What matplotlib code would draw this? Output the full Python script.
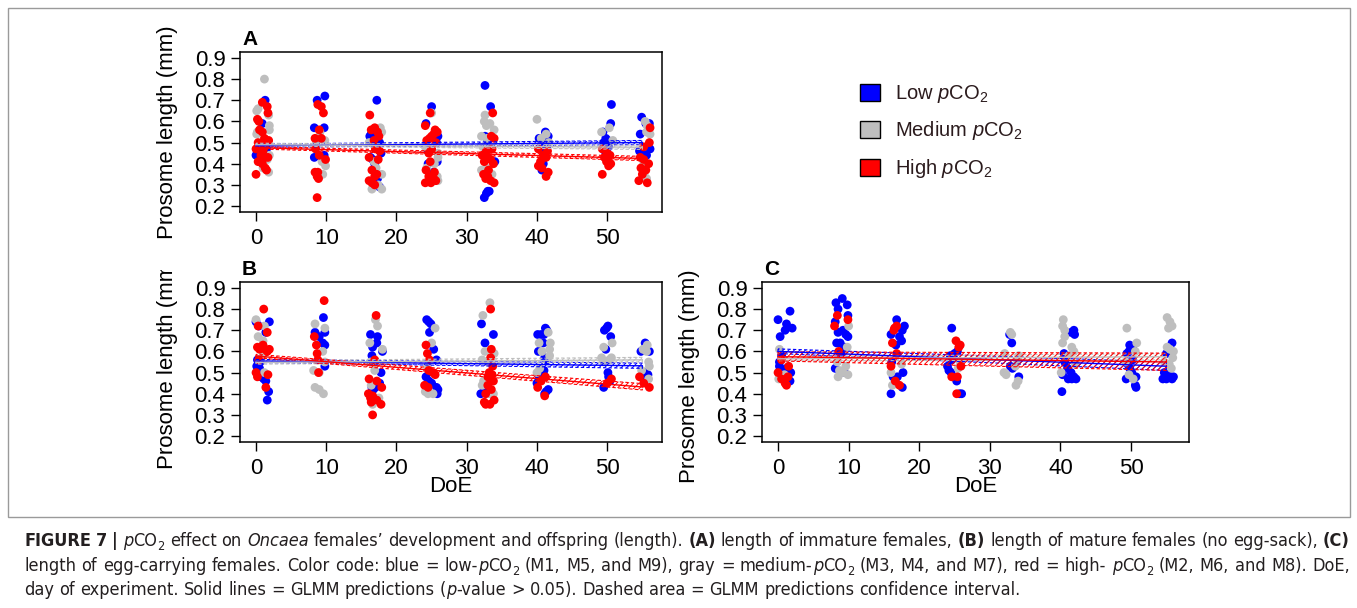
import os
import matplotlib
matplotlib.use('Agg')
import matplotlib.pyplot as plt
from matplotlib import font_manager
from matplotlib.patches import Patch, Rectangle
from matplotlib.transforms import Bbox, TransformedBbox

# ---------------- data ----------------
# panel A : immature females
a_low_x = [1.3, 0.9, 1.5, 0.6, 0.0,
           9.8, 8.7, 8.3, 9.7, 9.7, 8.3,
           17.2, 16.4, 16.2, 16.6, 17.6, 17.8, 16.3, 16.6, 16.9, 17.3, 17.6,
           25.0, 24.2, 25.9, 25.7, 24.4, 25.8, 24.5, 25.3,
           32.6, 33.4, 32.6, 33.0, 34.0, 33.2, 33.0, 32.5, 32.8,
           41.2, 41.6, 40.3, 40.8, 41.1, 41.4, 40.5, 40.9, 40.7,
           50.6, 50.5, 49.4, 49.8, 50.1, 49.5, 50.2, 49.7,
           54.9, 55.5, 56.0, 54.7, 56.1, 54.6, 55.0, 55.6]
a_low_y = [0.70, 0.59, 0.47, 0.48, 0.44,
           0.72, 0.70, 0.57, 0.57, 0.44, 0.43,
           0.70, 0.54, 0.53, 0.52, 0.50, 0.45, 0.43, 0.42, 0.40, 0.33, 0.29,
           0.67, 0.59, 0.53, 0.50, 0.47, 0.41, 0.40, 0.36,
           0.77, 0.67, 0.53, 0.51, 0.41, 0.27, 0.27, 0.24, 0.26,
           0.55, 0.53, 0.52, 0.51, 0.50, 0.48, 0.47, 0.40, 0.37,
           0.68, 0.59, 0.55, 0.52, 0.51, 0.50, 0.48, 0.46,
           0.62, 0.59, 0.59, 0.54, 0.47, 0.46, 0.45, 0.44]
a_med_x = [1.2, 0.3, 0.1, 1.8, 1.9, 1.9, 0.2, 0.1, 1.9, 1.6, 1.8, 1.0,
           9.1, 9.8, 8.6, 9.9, 9.4, 9.5,
           17.7, 17.9, 16.1, 16.8, 17.1, 17.9, 16.5, 17.9, 17.4,
           25.0, 24.1, 25.9, 25.9, 25.4, 25.8, 25.9, 24.3,
           32.6, 32.5, 32.8, 33.9, 33.3, 32.1, 32.9, 32.3, 33.2, 32.8, 32.1, 33.6,
           40.0, 41.3, 40.6, 41.7,
           50.3, 49.2, 50.8,
           55.4, 55.7, 55.6, 56.1, 55.2, 55.3, 55.6]
a_med_y = [0.80, 0.66, 0.65, 0.63, 0.58, 0.56, 0.55, 0.54, 0.44, 0.42, 0.36, 0.38,
           0.55, 0.51, 0.50, 0.39, 0.41, 0.35,
           0.57, 0.55, 0.50, 0.41, 0.38, 0.35, 0.28, 0.28, 0.30,
           0.64, 0.48, 0.45, 0.43, 0.40, 0.34, 0.32, 0.38,
           0.63, 0.60, 0.58, 0.56, 0.59, 0.53, 0.52, 0.48, 0.47, 0.38, 0.37, 0.35,
           0.61, 0.54, 0.52, 0.50,
           0.57, 0.55, 0.51,
           0.60, 0.58, 0.55, 0.54, 0.40, 0.34, 0.33]
a_high_x = [0.9, 1.6, 1.7, 0.2, 0.4, 0.5, 0.9, 1.2, 1.8, 0.3, 0.8, 1.2, 0.0, 1.0, 0.7, 1.3, 1.7, 0.3, 0.9, 1.3, 1.5, 0.0,
            8.8, 9.3, 9.6, 9.0, 8.4, 9.3, 8.5, 9.0, 9.9, 8.4, 8.8, 8.7, 8.9, 8.7,
            16.2, 16.9, 16.4, 17.3, 17.5, 16.8, 17.0, 17.6, 16.1, 17.4, 16.5, 17.2, 16.9, 16.1, 16.5, 16.9,
            24.8, 24.1, 25.5, 25.8, 25.3, 25.0, 24.7, 24.3, 25.6, 25.0, 24.6, 24.8, 24.2, 25.4, 24.6, 25.3, 24.1, 24.9, 25.6,
            33.7, 33.5, 33.9, 33.6, 32.8, 32.2, 33.0, 33.4, 32.5, 33.8, 33.1, 32.4, 33.0, 32.7, 33.4, 33.9,
            40.2, 41.5, 40.9, 41.3, 40.5, 40.2, 40.7, 41.6, 41.3,
            49.3, 50.0, 50.4, 49.6, 49.9, 50.5, 50.2, 49.3,
            56.1, 56.0, 55.2, 54.7, 55.2, 55.9, 54.8, 55.5, 55.0, 54.5, 55.7]
a_high_y = [0.69, 0.67, 0.64, 0.61, 0.60, 0.56, 0.55, 0.52, 0.51, 0.50, 0.49, 0.48, 0.47, 0.46, 0.44, 0.43, 0.43, 0.41, 0.40, 0.38, 0.37, 0.35,
            0.68, 0.67, 0.64, 0.56, 0.52, 0.52, 0.47, 0.44, 0.42, 0.36, 0.36, 0.34, 0.33, 0.24,
            0.63, 0.57, 0.56, 0.55, 0.53, 0.51, 0.47, 0.46, 0.43, 0.42, 0.37, 0.35, 0.34, 0.32, 0.31, 0.30,
            0.64, 0.58, 0.56, 0.55, 0.54, 0.53, 0.52, 0.51, 0.50, 0.47, 0.45, 0.41, 0.37, 0.36, 0.34, 0.33, 0.31, 0.31, 0.32,
            0.64, 0.53, 0.52, 0.47, 0.46, 0.44, 0.43, 0.42, 0.41, 0.40, 0.37, 0.35, 0.34, 0.33, 0.32, 0.31,
            0.47, 0.46, 0.44, 0.43, 0.41, 0.39, 0.38, 0.36, 0.34,
            0.47, 0.45, 0.44, 0.43, 0.41, 0.40, 0.39, 0.35,
            0.57, 0.50, 0.48, 0.43, 0.42, 0.40, 0.38, 0.37, 0.35, 0.32, 0.31]

# panel B : mature females (no egg-sack)
b_low_x = [0.0, 1.9, 0.4, 1.4, 0.2, 0.6, 0.1, 0.5, 0.7, 1.1, 1.4, 1.8, 1.6,
           9.6, 8.4, 9.8, 9.0, 9.5, 9.8, 9.8,
           16.3, 17.3, 17.2, 16.6, 18.0, 16.5, 17.8, 17.6, 17.0, 16.5, 16.7,
           24.3, 24.6, 24.9, 24.7, 25.3, 25.7, 24.2, 24.6, 25.0, 25.7, 25.9, 25.8,
           32.1, 33.8, 32.6, 32.0, 32.5,
           41.2, 41.4, 40.1, 40.6, 41.0, 40.9, 40.2, 41.1, 41.4, 41.0, 40.6, 40.3, 40.0, 41.6, 41.3, 41.1,
           50.1, 49.6, 49.9, 50.5, 49.8, 50.1, 50.2, 50.4, 49.5,
           55.4, 54.8, 56.0, 55.3, 55.8, 55.2]
b_low_y = [0.74, 0.74, 0.72, 0.69, 0.56, 0.55, 0.53, 0.52, 0.48, 0.47, 0.46, 0.41, 0.37,
           0.76, 0.69, 0.69, 0.67, 0.64, 0.63, 0.53,
           0.68, 0.67, 0.64, 0.62, 0.60, 0.58, 0.50, 0.45, 0.43, 0.43, 0.42,
           0.75, 0.74, 0.73, 0.69, 0.61, 0.56, 0.48, 0.46, 0.45, 0.43, 0.42, 0.40,
           0.73, 0.68, 0.64, 0.40, 0.43,
           0.71, 0.70, 0.68, 0.68, 0.68, 0.64, 0.60, 0.57, 0.56, 0.51, 0.50, 0.47, 0.45, 0.42, 0.41, 0.40,
           0.72, 0.70, 0.71, 0.67, 0.61, 0.50, 0.48, 0.46, 0.43,
           0.64, 0.60, 0.60, 0.50, 0.49, 0.47]
b_med_x = [0.0, 1.2, 0.3, 1.0, 1.0, 1.2,
           8.4, 9.8, 9.5, 9.8, 8.2, 9.0, 8.4, 9.0, 9.6,
           17.0, 17.3, 16.2, 18.0, 16.3, 16.9, 16.4, 17.5, 16.6,
           25.5, 25.0, 24.4, 24.1, 24.5, 25.2,
           33.3, 32.3, 32.6, 33.9, 32.2, 33.0, 32.4, 32.2, 33.2, 33.8,
           41.6, 40.3, 41.9, 41.8, 40.7, 41.8, 40.4, 40.0,
           49.5, 50.7, 49.2, 50.6, 49.5, 50.3,
           55.7, 55.1, 55.6, 55.9, 56.0, 54.9, 55.9]
b_med_y = [0.75, 0.72, 0.67, 0.65, 0.58, 0.50,
           0.73, 0.71, 0.60, 0.55, 0.51, 0.50, 0.43, 0.42, 0.40,
           0.75, 0.72, 0.64, 0.61, 0.55, 0.51, 0.44, 0.38, 0.35,
           0.71, 0.64, 0.53, 0.41, 0.40, 0.40,
           0.83, 0.77, 0.60, 0.59, 0.56, 0.55, 0.46, 0.44, 0.40, 0.40,
           0.69, 0.64, 0.64, 0.61, 0.60, 0.58, 0.52, 0.50,
           0.62, 0.64, 0.57, 0.57, 0.55, 0.56,
           0.63, 0.61, 0.60, 0.55, 0.53, 0.51, 0.47]
b_high_x = [1.1, 0.3, 1.6, 1.0, 0.2, 0.5, 1.3, 1.9, 1.6, 0.4, 0.0, 1.7, 0.2, 1.4,
            9.7, 8.3, 8.6, 8.7, 8.8, 8.9,
            17.1, 16.9, 16.1, 17.2, 17.9, 16.0, 16.6, 16.3, 17.2, 16.4, 17.8, 16.6,
            24.2, 24.4, 24.7, 24.6, 25.2, 25.5, 24.0, 24.5,
            33.4, 33.5, 33.4, 33.7, 33.2, 33.6, 33.0, 33.4, 33.8, 33.0, 33.5, 32.7, 33.9, 32.5, 32.7, 33.3,
            41.2, 40.6, 40.1, 41.1,
            50.6, 50.0,
            54.6, 55.2, 56.0]
b_high_y = [0.80, 0.72, 0.69, 0.63, 0.62, 0.61, 0.61, 0.61, 0.60, 0.56, 0.50, 0.49, 0.48, 0.43,
            0.84, 0.67, 0.63, 0.59, 0.56, 0.50,
            0.77, 0.56, 0.47, 0.46, 0.43, 0.40, 0.39, 0.38, 0.37, 0.36, 0.35, 0.30,
            0.63, 0.59, 0.56, 0.51, 0.50, 0.49, 0.44, 0.43,
            0.80, 0.61, 0.57, 0.53, 0.50, 0.49, 0.48, 0.47, 0.46, 0.44, 0.42, 0.40, 0.37, 0.36, 0.35, 0.35,
            0.48, 0.46, 0.43, 0.39,
            0.47, 0.45,
            0.48, 0.45, 0.43]

# panel C : egg-carrying females
c_low_x = [1.7, 0.0, 1.2, 2.0, 1.0, 0.3, 0.5, 0.2, 0.2, 1.2, 1.8, 1.7, 0.7,
           9.1, 8.2, 9.8, 8.5, 9.9, 8.1, 9.2, 8.5, 9.6, 9.9, 8.3, 8.8, 9.4, 8.9, 8.1, 9.4,
           16.8, 17.9, 17.6, 16.0, 17.2, 17.5, 16.7, 16.1, 17.7, 16.3, 16.9, 17.6, 16.0,
           24.6, 25.4, 25.0, 24.4, 24.6, 24.0, 24.2, 24.5, 25.3, 25.7, 26.0,
           32.8, 33.1, 32.9, 33.2, 34.1,
           41.5, 41.9, 42.0, 40.5, 40.6, 41.0, 41.5, 40.3, 41.9, 41.1, 41.6, 42.2, 40.2,
           49.8, 50.2, 49.7, 49.4, 50.2, 49.5, 49.8, 50.1, 50.7, 49.3, 50.6, 50.7,
           55.8, 55.0, 54.7, 55.2, 55.7, 55.0, 54.5, 56.0, 55.8]
c_low_y = [0.79, 0.75, 0.73, 0.71, 0.70, 0.67, 0.58, 0.55, 0.53, 0.52, 0.50, 0.46, 0.51,
           0.85, 0.83, 0.82, 0.80, 0.77, 0.74, 0.70, 0.69, 0.68, 0.67, 0.64, 0.64, 0.62, 0.59, 0.52, 0.50,
           0.75, 0.72, 0.70, 0.68, 0.67, 0.65, 0.63, 0.55, 0.50, 0.48, 0.48, 0.43, 0.40,
           0.71, 0.60, 0.59, 0.58, 0.56, 0.53, 0.51, 0.50, 0.46, 0.40, 0.40,
           0.68, 0.64, 0.53, 0.52, 0.48,
           0.69, 0.70, 0.68, 0.59, 0.55, 0.52, 0.50, 0.49, 0.48, 0.47, 0.47, 0.47, 0.41,
           0.63, 0.62, 0.60, 0.59, 0.56, 0.54, 0.52, 0.50, 0.48, 0.47, 0.44, 0.43,
           0.64, 0.59, 0.50, 0.49, 0.48, 0.47, 0.47, 0.48, 0.47]
c_med_x = [0.2, 0.1, 0.9,
           10.0, 9.8, 8.4, 9.6, 8.7, 9.2, 9.9, 8.5,
           16.0, 16.2, 17.5,
           25.5, 25.8,
           32.9, 33.1, 32.1, 34.1, 33.9, 32.0, 32.3, 34.0, 33.7, 33.6,
           40.4, 40.3, 40.6, 40.6, 40.3, 41.6, 41.9, 41.2, 42.1, 40.1,
           49.4, 50.8, 50.6, 49.2, 49.7, 50.3,
           55.1, 55.5, 55.8, 55.3, 55.1, 55.5, 56.0, 55.9, 54.7, 55.4, 55.7]
c_med_y = [0.61, 0.47, 0.49,
           0.72, 0.62, 0.55, 0.53, 0.51, 0.50, 0.49, 0.48,
           0.50, 0.44, 0.54,
           0.52, 0.55,
           0.69, 0.68, 0.59, 0.58, 0.56, 0.50, 0.49, 0.46, 0.44, 0.53,
           0.75, 0.72, 0.70, 0.67, 0.64, 0.62, 0.60, 0.58, 0.54, 0.50,
           0.71, 0.64, 0.60, 0.55, 0.49, 0.47,
           0.76, 0.74, 0.72, 0.71, 0.62, 0.61, 0.60, 0.57, 0.55, 0.54, 0.52]
c_high_x = [0.5, 1.5, 0.0, 1.4, 0.5, 1.0, 1.2,
            8.4, 9.9, 8.0, 8.6,
            16.8, 16.5, 16.4, 16.2, 16.8, 16.0, 16.6, 17.2,
            25.2, 25.8, 25.6, 25.9, 24.6, 25.4, 25.3]
c_high_y = [0.56, 0.53, 0.50, 0.48, 0.47, 0.45, 0.44,
            0.77, 0.75, 0.72, 0.60,
            0.72, 0.71, 0.70, 0.64, 0.59, 0.53, 0.46, 0.44,
            0.65, 0.63, 0.62, 0.53, 0.48, 0.48, 0.40]

# GLMM predictions and confidence limits at start / end of experiment
fit_days = [0, 55]
a_low_fit, a_low_ci = [0.485, 0.500], ([0.478, 0.490], [0.493, 0.510])
a_med_fit, a_med_ci = [0.490, 0.478], ([0.484, 0.468], [0.497, 0.488])
a_high_fit, a_high_ci = [0.476, 0.425], ([0.470, 0.415], [0.482, 0.435])
b_low_fit, b_low_ci = [0.555, 0.532], ([0.548, 0.520], [0.562, 0.545])
b_med_fit, b_med_ci = [0.548, 0.560], ([0.540, 0.550], [0.556, 0.572])
b_high_fit, b_high_ci = [0.578, 0.432], ([0.570, 0.418], [0.586, 0.448])
c_low_fit, c_low_ci = [0.600, 0.530], ([0.590, 0.510], [0.612, 0.550])
c_med_fit, c_med_ci = [0.565, 0.575], ([0.555, 0.560], [0.575, 0.590])
c_high_fit, c_high_ci = [0.575, 0.550], ([0.555, 0.510], [0.598, 0.592])

group_names = ['Low', 'Medium', 'High']
group_colors = ['#0000FF', '#BEBEBE', '#FF0000']
x_ticks = [0, 10, 20, 30, 40, 50]
y_ticks = [0.2, 0.3, 0.4, 0.5, 0.6, 0.7, 0.8, 0.9]

# caption: (text, style) with n = normal, b = bold, i = italic, s = subscript
caption_1 = [('FIGURE 7 |', 'b'), (' ', 'n'), ('p', 'i'), ('CO', 'n'), ('2', 's'),
             (' effect on ', 'n'), ('Oncaea', 'i'),
             (' females’ development and offspring (length). ', 'n'), ('(A)', 'b'),
             (' length of immature females, ', 'n'), ('(B)', 'b'),
             (' length of mature females (no egg-sack), ', 'n'), ('(C)', 'b')]
caption_2 = [('length of egg-carrying females. Color code: blue = low-', 'n'), ('p', 'i'), ('CO', 'n'),
             ('2', 's'), (' (M1, M5, and M9), gray = medium-', 'n'), ('p', 'i'), ('CO', 'n'), ('2', 's'),
             (' (M3, M4, and M7), red = high- ', 'n'), ('p', 'i'), ('CO', 'n'), ('2', 's'),
             (' (M2, M6, and M8). DoE,', 'n')]
caption_3 = [('day of experiment. Solid lines = GLMM predictions (', 'n'), ('p', 'i'),
             ('-value > 0.05). Dashed area = GLMM predictions confidence interval.', 'n')]


# ---------------- fonts ----------------
def pick_caption_font():
    cands = [('Liberation Sans Narrow', 'normal'), ('Noto Sans', 'condensed'),
             ('DejaVu Sans', 'condensed'), ('Open Sans', 'condensed'),
             ('Roboto Condensed', 'normal'), ('Noto Sans', 'semi-condensed')]
    for fam, st in cands:
        try:
            f = font_manager.findfont(font_manager.FontProperties(family=fam, stretch=st),
                                      fallback_to_default=False)
        except Exception:
            continue
        name = os.path.basename(f).lower()
        if 'narrow' in name or 'condensed' in name:
            return fam, st
    return 'Liberation Sans', 'normal'


cap_family, cap_stretch = pick_caption_font()
plt.rcParams['font.family'] = ['Liberation Sans', 'DejaVu Sans']
plt.rcParams['mathtext.fontset'] = 'custom'
plt.rcParams['mathtext.rm'] = 'Liberation Sans'
plt.rcParams['mathtext.it'] = 'Liberation Sans:italic'
plt.rcParams['mathtext.bf'] = 'Liberation Sans:bold'
plt.rcParams['hatch.linewidth'] = 0.7

W, H = 1357, 608
fig = plt.figure(figsize=(W / 100, H / 100), dpi=100)


def px_axes(left, top, right, bottom):
    return fig.add_axes([left / W, 1 - bottom / H, (right - left) / W, (bottom - top) / H])


def draw_panel(ax, pts, fits, xlim, letter):
    for (xs, ys), col in zip(pts, group_colors):
        ax.scatter(xs, ys, s=40, color=col, edgecolors='none', zorder=2)
    for (fit, (lo, hi)), col in zip(fits, group_colors):
        ax.fill_between(fit_days, lo, hi, facecolor='none', edgecolor=col, hatch='//////',
                        linewidth=0.8, linestyle=(0, (3, 2)), zorder=3)
        ax.plot(fit_days, fit, color=col, linewidth=1.0, zorder=4)
    ax.set_xlim(*xlim)
    ax.set_ylim(0.172, 0.928)
    ax.set_xticks(x_ticks)
    ax.set_yticks(y_ticks)
    ax.set_yticklabels([f'{v:.1f}' for v in y_ticks])
    ax.tick_params(direction='out', length=6.5, width=1, labelsize=16, pad=4, colors='black')
    ax.tick_params(axis='x', pad=5)
    for sp in ax.spines.values():
        sp.set_linewidth(1.1)
    ax.set_ylabel('Prosome length (mm)', fontsize=16)
    ax.text(0.005, 1.045, letter, transform=ax.transAxes, fontsize=15, fontweight='bold',
            ha='left', va='baseline')


ax_a = px_axes(240, 52, 662, 212)
ax_b = px_axes(240, 282, 662, 442)
ax_c = px_axes(762, 282, 1189, 442)

draw_panel(ax_a, [(a_low_x, a_low_y), (a_med_x, a_med_y), (a_high_x, a_high_y)],
           [(a_low_fit, a_low_ci), (a_med_fit, a_med_ci), (a_high_fit, a_high_ci)],
           (-2.28, 57.8), 'A')
draw_panel(ax_b, [(b_low_x, b_low_y), (b_med_x, b_med_y), (b_high_x, b_high_y)],
           [(b_low_fit, b_low_ci), (b_med_fit, b_med_ci), (b_high_fit, b_high_ci)],
           (-2.28, 57.8), 'B')
draw_panel(ax_c, [(c_low_x, c_low_y), (c_med_x, c_med_y), (c_high_x, c_high_y)],
           [(c_low_fit, c_low_ci), (c_med_fit, c_med_ci), (c_high_fit, c_high_ci)],
           (-2.27, 58.2), 'C')

for ax in (ax_a, ax_b):
    ax.yaxis.set_label_coords(-0.147, 0.5)
ax_c.yaxis.set_label_coords(-0.145, 0.41)
for ax in (ax_b, ax_c):
    ax.set_xlabel('DoE', fontsize=16)
    ax.xaxis.set_label_coords(0.5, -0.215)

# panel B's y label is cut at the top of its plotting region
lab_b = ax_b.yaxis.label
lab_b.set_clip_box(TransformedBbox(Bbox([[0, 0], [1, 1 - 270 / H]]), fig.transFigure))
lab_b.set_clip_on(True)

# legend
handles = [Patch(facecolor=c, edgecolor='black', linewidth=1) for c in group_colors]
labels = [f'{n} $p$CO$_2$' for n in group_names]
fig.legend(handles, labels, loc='upper left', bbox_to_anchor=(860 / W, 1 - 83 / H),
           frameon=False, fontsize=14.5, labelcolor='#2b1b1d', handlelength=1.0,
           handleheight=0.92, handletextpad=0.72, labelspacing=0.72, borderpad=0,
           borderaxespad=0)

# ---------------- caption, laid out piece by piece ----------------
fig.canvas.draw()
rend = fig.canvas.get_renderer()
cap_color = '#231f20'


def cap_props(style, size):
    kw = dict(family=cap_family, stretch=cap_stretch, color=cap_color, fontsize=size)
    if style == 'b':
        kw['fontweight'] = 'bold'
    elif style == 'i':
        kw['fontstyle'] = 'italic'
    elif style == 's':
        kw['fontsize'] = size * 0.7
    return kw


def text_width(s, style, size):
    t = fig.text(0, 0, s, **cap_props(style, size))
    w = t.get_window_extent(rend).width
    t.remove()
    return w


def split_pieces(segs):
    pieces = []
    for txt, style in segs:
        parts = txt.split(' ')
        for k, p in enumerate(parts):
            if k > 0:
                pieces.append(None)
            if p:
                pieces.append((p, style))
    return pieces


def line_width(segs, size):
    sp = text_width('a a', 'n', size) - text_width('aa', 'n', size)
    return sum(sp if p is None else text_width(p[0], p[1], size) for p in split_pieces(segs)), sp


def place_line(segs, y_px, size, target=None):
    natural, sp = line_width(segs, size)
    pieces = split_pieces(segs)
    n_sp = sum(1 for p in pieces if p is None)
    gap = sp + ((target - natural) / n_sp if target else 0)
    x = 24.0
    for p in pieces:
        if p is None:
            x += gap
            continue
        s, style = p
        y = y_px + (0.22 * size * 100 / 72 if style == 's' else 0)
        fig.text(x / W, 1 - y / H, s, ha='left', va='baseline', **cap_props(style, size))
        x += text_width(s, style, size)


cap_size = 12.0
widest = max(line_width(caption_1, cap_size)[0], line_width(caption_2, cap_size)[0])
cap_size = min(14.0, cap_size * 1322 / widest)
place_line(caption_1, 546, cap_size, target=1326)
place_line(caption_2, 571, cap_size, target=1326)
place_line(caption_3, 595, cap_size)

# outer frame
fig.add_artist(Rectangle((8 / W, 1 - 517 / H), (1350 - 8) / W, (517 - 8) / H,
                         transform=fig.transFigure, fill=False, edgecolor='#9a9a9a', linewidth=1))

fig.savefig('out.png', dpi=100)
